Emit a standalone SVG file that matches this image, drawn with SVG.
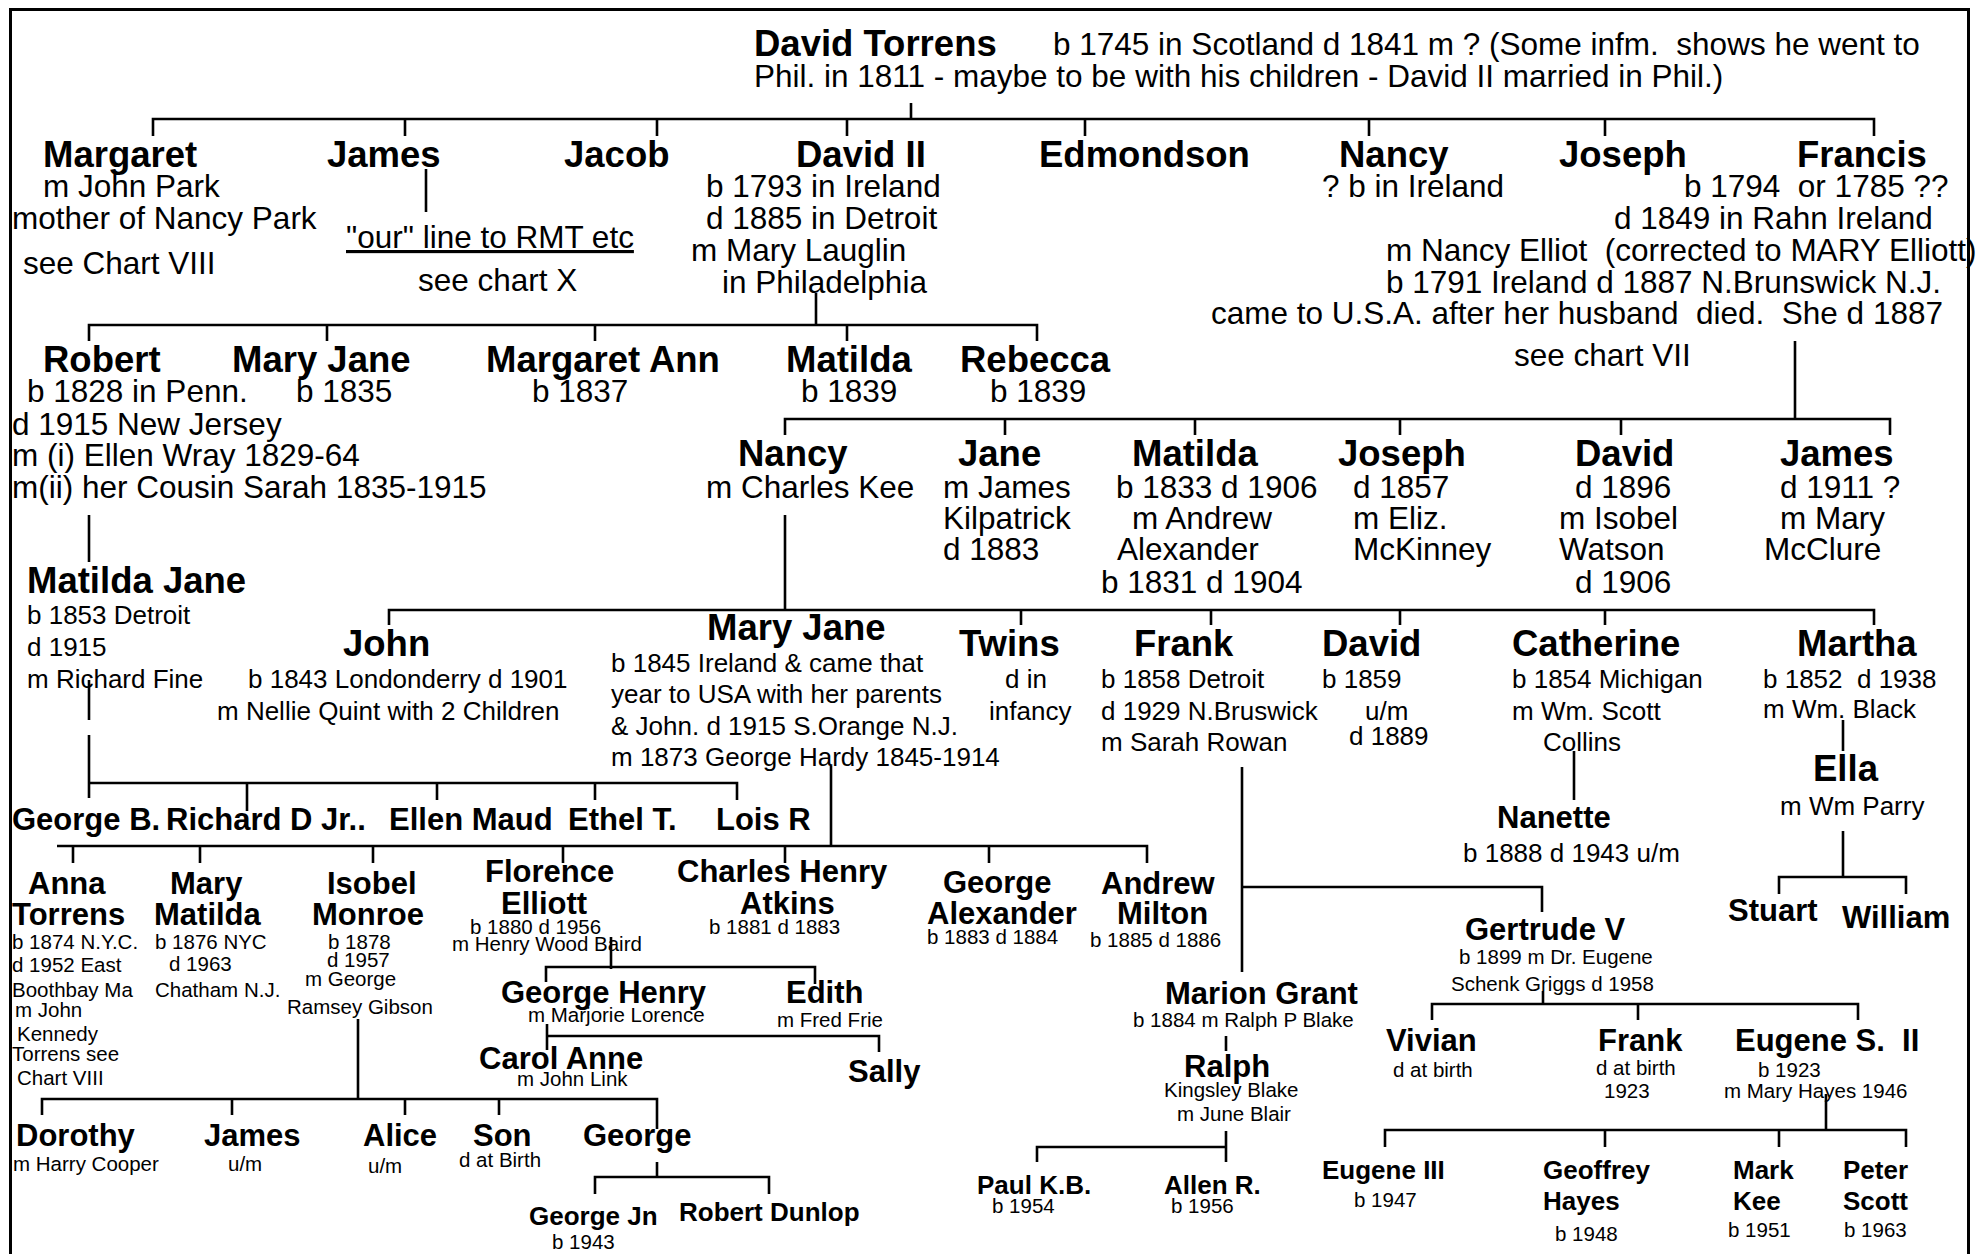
<svg xmlns="http://www.w3.org/2000/svg" width="1976" height="1254" viewBox="0 0 1976 1254">
<style>
text{font-family:"Liberation Sans",Arial,Helvetica,sans-serif;fill:#000}
.n{font-size:36.5px;font-weight:bold}
.m{font-size:31px;font-weight:bold}
.b{font-size:26px;font-weight:bold}
.t{font-size:31.5px}
.s{font-size:26px}
.x{font-size:20.5px}
.ln{fill:none;stroke:#000;stroke-width:2.6}
.fr{fill:none;stroke:#000;stroke-width:3}
</style>
<rect width="1976" height="1254" fill="#fff"/>
<path class="fr" d="M10.5,1260 V9.5 H1968.5 V1260"/>
<g id="connectors">
<path class="ln" d="M911,103 V119 M153,136 V119 H1874 V136 M405,119 V136 M657,119 V136 M847,119 V136 M1085,119 V136 M1369,119 V136 M1605,119 V136"/>
<path class="ln" d="M426,169 V212"/>
<path class="ln" d="M816,293 V325 M89,341 V325 H1037 V341 M327,325 V341 M595,325 V341 M847,325 V341"/>
<path class="ln" d="M1795,341 V419 M785,435 V419 H1890 V435 M1005,419 V435 M1195,419 V435 M1400,419 V435 M1621,419 V435"/>
<path class="ln" d="M89,515 V562"/>
<path class="ln" d="M785,515 V610 M389,625 V610 H1874 V625 M1021,610 V625 M1211,610 V625 M1400,610 V625 M1605,610 V625"/>
<path class="ln" d="M89,680 V720 M89,735 V798 M89,783 H737 V800 M247,783 V811 M437,783 V800 M595,783 V800"/>
<path class="ln" d="M831,766 V846 M57,846 H1147 V863 M73,846 V863 M200,846 V863 M373,846 V863 M563,846 V863 M785,846 V863 M989,846 V863"/>
<path class="ln" d="M611,937 V969 M546,982 V967 H815 V984"/>
<path class="ln" d="M547,1024 V1050 M547,1036 H879 V1052"/>
<path class="ln" d="M358,1019 V1099 M42,1115 V1099 H657 V1129 M232,1099 V1115 M405,1099 V1115 M499,1099 V1115"/>
<path class="ln" d="M657,1162 V1177 M595,1194 V1177 H769 V1194"/>
<path class="ln" d="M1242,767 V972 M1242,887 H1542 V912"/>
<path class="ln" d="M1226,1036 V1051 M1226,1131 V1162 M1037,1162 V1147 H1226"/>
<path class="ln" d="M1543,991 V1004 M1432,1020 V1004 H1858 V1020 M1638,1004 V1020"/>
<path class="ln" d="M1826,1094 V1130 M1385,1147 V1130 H1906 V1147 M1605,1130 V1147 M1779,1130 V1147"/>
<path class="ln" d="M1574,751 V800 M1843,720 V751 M1843,831 V877 M1779,894 V877 H1906 V894"/>
</g>
<g id="david-torrens">
<text class="n" x="754" y="56">David Torrens</text>
<text class="t" x="1053" y="55" xml:space="preserve">b 1745 in Scotland d 1841 m ? (Some infm.  shows he went to</text>
<text class="t" x="754" y="87">Phil. in 1811 - maybe to be with his children - David II married in Phil.)</text>
</g>
<g id="margaret">
<text class="n" x="43" y="167">Margaret</text>
<text class="t" x="43" y="197">m John Park</text>
<text class="t" x="12" y="229">mother of Nancy Park</text>
<text class="t" x="23" y="274">see Chart VIII</text>
</g>
<g id="james">
<text class="n" x="327" y="167">James</text>
<text class="t" x="346" y="248" text-decoration="underline">"our" line to RMT etc</text>
<text class="t" x="418" y="291">see chart X</text>
</g>
<g id="jacob"><text class="n" x="564" y="167">Jacob</text></g>
<g id="david-ii">
<text class="n" x="796" y="167">David II</text>
<text class="t" x="706" y="197">b 1793 in Ireland</text>
<text class="t" x="706" y="229">d 1885 in Detroit</text>
<text class="t" x="691" y="261">m Mary Lauglin</text>
<text class="t" x="722" y="293">in Philadelphia</text>
</g>
<g id="edmondson"><text class="n" x="1039" y="167">Edmondson</text></g>
<g id="nancy-1">
<text class="n" x="1339" y="167">Nancy</text>
<text class="t" x="1322" y="197">? b in Ireland</text>
</g>
<g id="joseph-1"><text class="n" x="1559" y="167">Joseph</text></g>
<g id="francis">
<text class="n" x="1797" y="167">Francis</text>
<text class="t" x="1684" y="197" xml:space="preserve">b 1794  or 1785 ??</text>
<text class="t" x="1614" y="229">d 1849 in Rahn Ireland</text>
<text class="t" x="1386" y="261" xml:space="preserve">m Nancy Elliot  (corrected to MARY Elliott)</text>
<text class="t" x="1386" y="293">b 1791 Ireland d 1887 N.Brunswick N.J.</text>
<text class="t" x="1211" y="324" xml:space="preserve">came to U.S.A. after her husband  died.  She d 1887</text>
<text class="t" x="1514" y="366">see chart VII</text>
</g>
<g id="robert">
<text class="n" x="43" y="372">Robert</text>
<text class="t" x="27" y="402">b 1828 in Penn.</text>
<text class="t" x="12" y="435">d 1915 New Jersey</text>
<text class="t" x="12" y="466">m (i) Ellen Wray 1829-64</text>
<text class="t" x="12" y="498">m(ii) her Cousin Sarah 1835-1915</text>
</g>
<g id="mary-jane-1">
<text class="n" x="232" y="372">Mary Jane</text>
<text class="t" x="296" y="402">b 1835</text>
</g>
<g id="margaret-ann">
<text class="n" x="486" y="372">Margaret Ann</text>
<text class="t" x="532" y="402">b 1837</text>
</g>
<g id="matilda-1">
<text class="n" x="786" y="372">Matilda</text>
<text class="t" x="801" y="402">b 1839</text>
</g>
<g id="rebecca">
<text class="n" x="960" y="372">Rebecca</text>
<text class="t" x="990" y="402">b 1839</text>
</g>
<g id="nancy-2">
<text class="n" x="738" y="466">Nancy</text>
<text class="t" x="706" y="498">m Charles Kee</text>
</g>
<g id="jane">
<text class="n" x="958" y="466">Jane</text>
<text class="t" x="943" y="498">m James</text>
<text class="t" x="943" y="529">Kilpatrick</text>
<text class="t" x="943" y="560">d 1883</text>
</g>
<g id="matilda-2">
<text class="n" x="1132" y="466">Matilda</text>
<text class="t" x="1116" y="498">b 1833 d 1906</text>
<text class="t" x="1132" y="529">m Andrew</text>
<text class="t" x="1117" y="560">Alexander</text>
<text class="t" x="1101" y="593">b 1831 d 1904</text>
</g>
<g id="joseph-2">
<text class="n" x="1338" y="466">Joseph</text>
<text class="t" x="1353" y="498">d 1857</text>
<text class="t" x="1353" y="529">m Eliz.</text>
<text class="t" x="1353" y="560">McKinney</text>
</g>
<g id="david-2">
<text class="n" x="1575" y="466">David</text>
<text class="t" x="1575" y="498">d 1896</text>
<text class="t" x="1559" y="529">m Isobel</text>
<text class="t" x="1559" y="560">Watson</text>
<text class="t" x="1575" y="593">d 1906</text>
</g>
<g id="james-2">
<text class="n" x="1780" y="466">James</text>
<text class="t" x="1780" y="498">d 1911 ?</text>
<text class="t" x="1780" y="529">m Mary</text>
<text class="t" x="1764" y="560">McClure</text>
</g>
<g id="matilda-jane">
<text class="n" x="27" y="593">Matilda Jane</text>
<text class="s" x="27" y="624">b 1853 Detroit</text>
<text class="s" x="27" y="656">d 1915</text>
<text class="s" x="27" y="688">m Richard Fine</text>
</g>
<g id="john">
<text class="n" x="343" y="656">John</text>
<text class="s" x="248" y="688">b 1843 Londonderry d 1901</text>
<text class="s" x="217" y="720">m Nellie Quint with 2 Children</text>
</g>
<g id="mary-jane-2">
<text class="n" x="707" y="640">Mary Jane</text>
<text class="s" x="611" y="672">b 1845 Ireland &amp; came that</text>
<text class="s" x="611" y="703">year to USA with her parents</text>
<text class="s" x="611" y="735">&amp; John. d 1915 S.Orange N.J.</text>
<text class="s" x="611" y="766">m 1873 George Hardy 1845-1914</text>
</g>
<g id="twins">
<text class="n" x="959" y="656">Twins</text>
<text class="s" x="1005" y="688">d in</text>
<text class="s" x="989" y="720">infancy</text>
</g>
<g id="frank-1">
<text class="n" x="1134" y="656">Frank</text>
<text class="s" x="1101" y="688">b 1858 Detroit</text>
<text class="s" x="1101" y="720">d 1929 N.Bruswick</text>
<text class="s" x="1101" y="751">m Sarah Rowan</text>
</g>
<g id="david-3">
<text class="n" x="1322" y="656">David</text>
<text class="s" x="1322" y="688">b 1859</text>
<text class="s" x="1365" y="720">u/m</text>
<text class="s" x="1349" y="745">d 1889</text>
</g>
<g id="catherine">
<text class="n" x="1512" y="656">Catherine</text>
<text class="s" x="1512" y="688">b 1854 Michigan</text>
<text class="s" x="1512" y="720">m Wm. Scott</text>
<text class="s" x="1543" y="751">Collins</text>
</g>
<g id="martha">
<text class="n" x="1797" y="656">Martha</text>
<text class="s" x="1763" y="688" xml:space="preserve">b 1852  d 1938</text>
<text class="s" x="1763" y="718">m Wm. Black</text>
</g>
<g id="ella">
<text class="n" x="1813" y="781">Ella</text>
<text class="s" x="1780" y="815">m Wm Parry</text>
</g>
<g id="stuart"><text class="m" x="1728" y="921">Stuart</text></g>
<g id="william"><text class="m" x="1842" y="928">William</text></g>
<g id="nanette">
<text class="m" x="1497" y="828">Nanette</text>
<text class="s" x="1463" y="862">b 1888 d 1943 u/m</text>
</g>
<g id="george-b"><text class="m" x="12" y="830">George B.</text></g>
<g id="richard-d"><text class="m" x="166" y="830">Richard D Jr..</text></g>
<g id="ellen-maud"><text class="m" x="389" y="830">Ellen Maud</text></g>
<g id="ethel-t"><text class="m" x="568" y="830">Ethel T.</text></g>
<g id="lois-r"><text class="m" x="716" y="830">Lois R</text></g>
<g id="anna-torrens">
<text class="m" x="28" y="894">Anna</text>
<text class="m" x="12" y="925">Torrens</text>
<text class="x" x="12" y="949">b 1874 N.Y.C.</text>
<text class="x" x="12" y="972">d 1952 East</text>
<text class="x" x="12" y="997">Boothbay Ma</text>
<text class="x" x="15" y="1017">m John</text>
<text class="x" x="17" y="1041">Kennedy</text>
<text class="x" x="12" y="1061">Torrens see</text>
<text class="x" x="17" y="1085">Chart VIII</text>
</g>
<g id="mary-matilda">
<text class="m" x="170" y="894">Mary</text>
<text class="m" x="154" y="925">Matilda</text>
<text class="x" x="155" y="949">b 1876 NYC</text>
<text class="x" x="169" y="971">d 1963</text>
<text class="x" x="155" y="997">Chatham N.J.</text>
</g>
<g id="isobel-monroe">
<text class="m" x="327" y="894">Isobel</text>
<text class="m" x="312" y="925">Monroe</text>
<text class="x" x="328" y="949">b 1878</text>
<text class="x" x="327" y="967">d 1957</text>
<text class="x" x="305" y="986">m George</text>
<text class="x" x="287" y="1014">Ramsey Gibson</text>
</g>
<g id="florence-elliott">
<text class="m" x="485" y="882">Florence</text>
<text class="m" x="501" y="914">Elliott</text>
<text class="x" x="470" y="934">b 1880 d 1956</text>
<text class="x" x="452" y="951">m Henry Wood Baird</text>
</g>
<g id="charles-henry-atkins">
<text class="m" x="677" y="882">Charles Henry</text>
<text class="m" x="740" y="914">Atkins</text>
<text class="x" x="709" y="934">b 1881 d 1883</text>
</g>
<g id="george-alexander">
<text class="m" x="943" y="893">George</text>
<text class="m" x="927" y="924">Alexander</text>
<text class="x" x="927" y="944">b 1883 d 1884</text>
</g>
<g id="andrew-milton">
<text class="m" x="1101" y="894">Andrew</text>
<text class="m" x="1117" y="924">Milton</text>
<text class="x" x="1090" y="947">b 1885 d 1886</text>
</g>
<g id="george-henry">
<text class="m" x="501" y="1003">George Henry</text>
<text class="x" x="528" y="1022">m Marjorie Lorence</text>
</g>
<g id="edith">
<text class="m" x="786" y="1003">Edith</text>
<text class="x" x="777" y="1027">m Fred Frie</text>
</g>
<g id="carol-anne">
<text class="m" x="479" y="1069">Carol Anne</text>
<text class="x" x="517" y="1086">m John Link</text>
</g>
<g id="sally"><text class="m" x="848" y="1082">Sally</text></g>
<g id="dorothy">
<text class="m" x="16" y="1146">Dorothy</text>
<text class="x" x="13" y="1171">m Harry Cooper</text>
</g>
<g id="james-3">
<text class="m" x="204" y="1146">James</text>
<text class="x" x="228" y="1171">u/m</text>
</g>
<g id="alice">
<text class="m" x="363" y="1146">Alice</text>
<text class="x" x="368" y="1173">u/m</text>
</g>
<g id="son">
<text class="m" x="473" y="1146">Son</text>
<text class="x" x="459" y="1167">d at Birth</text>
</g>
<g id="george"><text class="m" x="583" y="1146">George</text></g>
<g id="george-jn">
<text class="b" x="529" y="1225">George Jn</text>
<text class="x" x="552" y="1249">b 1943</text>
</g>
<g id="robert-dunlop"><text class="b" x="679" y="1221">Robert Dunlop</text></g>
<g id="marion-grant">
<text class="m" x="1165" y="1004">Marion Grant</text>
<text class="x" x="1133" y="1027">b 1884 m Ralph P Blake</text>
</g>
<g id="ralph">
<text class="m" x="1184" y="1077">Ralph</text>
<text class="x" x="1164" y="1097">Kingsley Blake</text>
<text class="x" x="1177" y="1121">m June Blair</text>
</g>
<g id="paul-kb">
<text class="b" x="977" y="1194">Paul K.B.</text>
<text class="x" x="992" y="1213">b 1954</text>
</g>
<g id="allen-r">
<text class="b" x="1164" y="1194">Allen R.</text>
<text class="x" x="1171" y="1213">b 1956</text>
</g>
<g id="gertrude-v">
<text class="m" x="1465" y="940">Gertrude V</text>
<text class="x" x="1459" y="964">b 1899 m Dr. Eugene</text>
<text class="x" x="1451" y="991">Schenk Griggs d 1958</text>
</g>
<g id="vivian">
<text class="m" x="1386" y="1051">Vivian</text>
<text class="x" x="1393" y="1077">d at birth</text>
</g>
<g id="frank-2">
<text class="m" x="1598" y="1051">Frank</text>
<text class="x" x="1596" y="1075">d at birth</text>
<text class="x" x="1604" y="1098">1923</text>
</g>
<g id="eugene-s-ii">
<text class="m" x="1735" y="1051" xml:space="preserve">Eugene S.  II</text>
<text class="x" x="1758" y="1077">b 1923</text>
<text class="x" x="1724" y="1098">m Mary Hayes 1946</text>
</g>
<g id="eugene-iii">
<text class="b" x="1322" y="1179">Eugene III</text>
<text class="x" x="1354" y="1207">b 1947</text>
</g>
<g id="geoffrey-hayes">
<text class="b" x="1543" y="1179">Geoffrey</text>
<text class="b" x="1543" y="1210">Hayes</text>
<text class="x" x="1555" y="1241">b 1948</text>
</g>
<g id="mark-kee">
<text class="b" x="1733" y="1179">Mark</text>
<text class="b" x="1733" y="1210">Kee</text>
<text class="x" x="1728" y="1237">b 1951</text>
</g>
<g id="peter-scott">
<text class="b" x="1843" y="1179">Peter</text>
<text class="b" x="1843" y="1210">Scott</text>
<text class="x" x="1844" y="1237">b 1963</text>
</g>
</svg>
